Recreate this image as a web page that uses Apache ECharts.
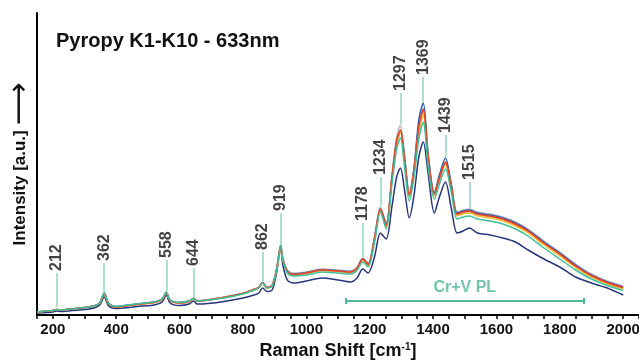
<!DOCTYPE html>
<html>
<head>
<meta charset="utf-8">
<title>Pyropy K1-K10 - 633nm</title>
<script src="https://cdn.jsdelivr.net/npm/echarts@6/dist/echarts.min.js"></script>
<style>
  html, body { margin: 0; padding: 0; background: #fff; }
  #raman_chart { width: 639px; height: 361px; }
</style>
</head>
<body>
<div id="raman_chart"></div>
<script>
// Raman shift (cm-1) sample points
const shifts = [150,180,200,212,225,260,300,330,348,362,376,400,440,480,520,545,558,570,600,630,
  644,656,690,740,800,835,850,862,876,892,906,913,919,926,940,960,1000,1050,1100,1140,
  1160,1178,1195,1215,1234,1252,1270,1285,1297,1310,1325,1340,1355,1369,1385,1404,1420,1439,1458,1476,
  1495,1515,1540,1580,1620,1660,1700,1750,1800,1850,1900,1950,2000];

// intensities (a.u.) of the individual spectra
const kNavy = [2,2.5,3,4,3.5,4.5,5.5,7,10,18,
  9,6.5,7.5,9,10,13,20,12,9.5,11,
  14,11,11.5,13.5,17,20,22,27,23.5,25,
  42,57,68,50,35,32,34,37,35,33,
  37,46,42,58,82,76,108,138,147,125,
  97,120,158,173,140,102,118,133,106,82,
  84,87,82,80,77,73,65,56,48,38,
  32,27,20];
const kGray = [3,4,4.5,5.5,5,6,7.5,9,12,22,
  12,8.5,10,11.5,13,16,23,15,12.5,14,
  17,14.5,15.5,18,22,26,28,33,28,30,
  46,60,70,57,45,42,43,46,45,44,
  48,57,52,78,108,92,140,178,190,160,
  122,145,188,206,155,123,138,153,128,103,
  105,106,103,101,98,93,86,74,63,51,
  41,34,29];
const kBlue = [3,4,4.5,5.5,5,6,7.5,9,12,21.5,
  12,8.5,10,11.5,13,16,22.5,15,12.5,14,
  16.5,14,15,17.5,21.5,25.5,27.5,32.5,27.5,29.5,
  45.5,59.5,70,56,44,41,42.5,45.5,44.5,43.5,
  47,56,51,76,106,91,136,173,184,158,
  121,148,195,212,160,122,140,157,130,102,
  104,105,102,100,97,92,85,73,62,50,
  40,33,28];
const kYellow = [3,4,4.5,5.5,5,6,7.5,9,12,21,
  11.5,8,9.5,11,12.5,15.5,22.5,14.5,12,13.5,
  16.5,14,15,17.5,21.5,25,27,32,27,29,
  45,59,69,55,43,40,41.5,44.5,43.5,42.5,
  46,55,49.5,74,104,88,134,171,182,153,
  118,142,182,200,152,119,135,150,126,99,
  101,102,99,97,94,89,82,70,59,47.5,
  38,31,26];
const kOrange = [3,4,4.5,5.5,5,6,7.5,9,12,21,
  11.5,8,9.5,11,12.5,15.5,22.5,14.5,12,13.5,
  16.5,14,15,17.5,21.5,25.5,27.5,32,27.5,29.5,
  45,59,69,55,43.5,40.5,42,45,44,43,
  46.5,55.5,50,75,105,89,136,173,184,155,
  119,144,186,204,155,120,136,152,127,100,
  102.5,103.5,100.5,98.5,95.5,90.5,83.5,71.5,60.5,48.5,
  39,32,27];
const kRed = [3,4,4.5,5.5,5,6,7.5,9,12,21,
  11.5,8,9.5,11,12.5,15.5,22.5,14.5,12,13.5,
  16.5,14,15,17.5,21.5,25.5,27.5,32,27.5,29.5,
  45,59,69,55,43.5,40.5,42,45,44,43,
  47,56,50.5,76,106,90,137,174,185,156,
  120,145,188,206,156,121,137,153,128,101,
  103,104,101,99,96,91,84,72,61,49,
  39.5,32.5,27.5];
const kTeal = [3,4,4.5,5.5,5,6,7.5,9,12,22,
  12,8.5,10,11.5,13,16,23,15,12.5,14,
  16.5,14,15,17,21,25,27,32,27,29,
  45,59,69.5,55,42,39,40,43,42,41,
  44.5,53,48,72,103,86,130,166,177,148,
  114,138,176,193,147,116,131,146,122,96,
  98,99,96,94,91,86,79,67,56,45,
  36,29.5,24.5];

// peak annotations
const peakNames = ['212','362','558','644','862','919','1178','1234','1297','1369','1439','1515'];
const peakX = [212,362,558,644,862,919,1178,1234,1297,1369,1439,1515];
const peakLineFrom = [8,23,24,18,34,71,58,109,191,213,158,107];
const peakLineTo = [42,52,55,47,63,102,92,138,222,238,180,133];

// photoluminescence band
const plRange = [1125, 1875];
const plLevel = 14;
const plLabel = 'Cr+V PL';
const plLabelAt = [1500, 27];

const FONT = "'Liberation Sans', Arial, sans-serif";

const spectra = [
  { name: 'K-navy', color: '#28347c', data: kNavy },
  { name: 'K-gray', color: '#b9b9c2', data: kGray },
  { name: 'K-blue', color: '#2f5ab4', data: kBlue },
  { name: 'K-yellow', color: '#f2c53a', data: kYellow },
  { name: 'K-orange', color: '#f2923a', data: kOrange },
  { name: 'K-red', color: '#e0452c', data: kRed },
  { name: 'K-teal', color: '#3fbf9b', data: kTeal }
];

const chart = echarts.init(document.getElementById('raman_chart'));

const lineSeries = spectra.map(s => ({
  name: s.name,
  type: 'line',
  data: shifts.map((x, i) => [x, s.data[i]]),
  symbol: 'none',
  smooth: 0.3,
  lineStyle: { width: 1.5, color: s.color },
  itemStyle: { color: s.color },
  silent: true
}));

const option = {
  animation: false,
  backgroundColor: '#fff',
  title: {
    text: 'Pyropy K1-K10 - 633nm',
    left: 51,
    top: 26,
    textStyle: { color: '#111', fontSize: 20, fontWeight: 'bold', fontFamily: FONT }
  },
  grid: { left: 37, right: 0, top: 13, bottom: 46, containLabel: false, outerBoundsMode: 'none' },
  xAxis: {
    type: 'value',
    min: 150,
    max: 2050,
    interval: 50,
    name: '{a|Raman Shift [cm}{s|-1}{a|]}',
    nameLocation: 'middle',
    nameGap: 27,
    nameTextStyle: {
      rich: {
        a: { color: '#111', fontSize: 18, fontWeight: 'bold', fontFamily: FONT },
        s: { color: '#111', fontSize: 10, fontWeight: 'bold', fontFamily: FONT, verticalAlign: 'top', padding: [0, 0, 6, 0] }
      }
    },
    axisLine: { lineStyle: { color: '#000', width: 2 } },
    axisTick: { length: 4, lineStyle: { color: '#000', width: 1.5 } },
    axisLabel: {
      formatter: v => (v % 200 === 0 ? String(v) : ''),
      color: '#111',
      fontSize: 15,
      fontWeight: 'bold',
      fontFamily: FONT,
      margin: 7
    },
    splitLine: { show: false }
  },
  yAxis: {
    type: 'value',
    min: 0,
    max: 302,
    name: '{a|Intensity [a.u.] }{b|\u27F6}',
    nameLocation: 'middle',
    nameRotate: 90,
    nameGap: 7,
    nameTextStyle: {
      rich: {
        a: { color: '#111', fontSize: 17, fontWeight: 'bold', fontFamily: FONT, verticalAlign: 'middle' },
        b: { color: '#111', fontSize: 30, fontWeight: 'normal', fontFamily: "'DejaVu Sans', sans-serif", verticalAlign: 'middle', lineHeight: 20 }
      }
    },
    axisLine: { show: true, lineStyle: { color: '#000', width: 2 } },
    axisTick: { show: false },
    axisLabel: { show: false },
    splitLine: { show: false }
  },
  series: [
    ...lineSeries,
    {
      name: 'peaks',
      type: 'scatter',
      silent: true,
      symbolSize: 0.1,
      itemStyle: { color: 'rgba(0,0,0,0)' },
      data: peakX.map((x, i) => [x, peakLineTo[i]]),
      label: {
        show: true,
        formatter: p => peakNames[p.dataIndex],
        position: 'top',
        distance: 2,
        rotate: 90,
        align: 'left',
        verticalAlign: 'middle',
        color: '#111',
        fontSize: 16,
        fontWeight: 'bold',
        fontFamily: FONT
      },
      markLine: {
        silent: true,
        symbol: 'none',
        label: { show: false },
        lineStyle: { color: '#8fd4c0', width: 1.5, type: 'solid' },
        data: peakX.map((x, i) => [{ coord: [x, peakLineFrom[i]] }, { coord: [x, peakLineTo[i]] }])
      }
    },
    {
      name: 'pl',
      type: 'scatter',
      silent: true,
      symbolSize: 0.1,
      itemStyle: { color: 'rgba(0,0,0,0)' },
      data: [plLabelAt],
      label: {
        show: true,
        formatter: plLabel,
        position: 'inside',
        color: '#4db897',
        fontSize: 16,
        fontWeight: 'bold',
        fontFamily: FONT
      },
      markLine: {
        silent: true,
        symbol: 'none',
        label: { show: false },
        lineStyle: { color: '#4db897', width: 2, type: 'solid' },
        data: [
          [{ coord: [plRange[0], plLevel] }, { coord: [plRange[1], plLevel] }],
          [{ coord: [plRange[0], plLevel - 3] }, { coord: [plRange[0], plLevel + 3] }],
          [{ coord: [plRange[1], plLevel - 3] }, { coord: [plRange[1], plLevel + 3] }]
        ]
      }
    }
  ]
};

chart.setOption(option);
</script>
</body>
</html>
